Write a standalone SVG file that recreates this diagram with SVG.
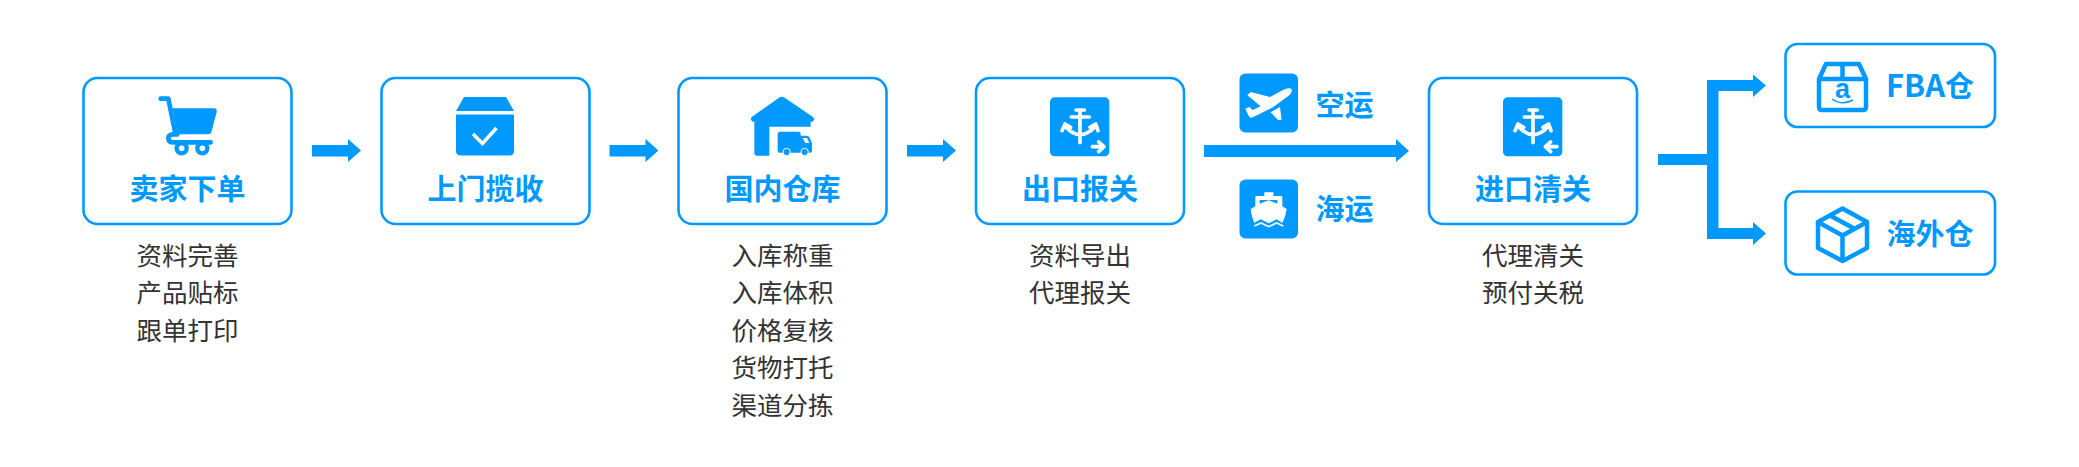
<svg xmlns="http://www.w3.org/2000/svg" width="2079" height="467" viewBox="0 0 2079 467">
<style>
text{font-family:"Noto Sans CJK SC","Noto Sans",sans-serif;text-anchor:middle}
.t{font-size:29px;font-weight:700;fill:#0099ff}
.s{font-size:25.500px;fill:#333}
.box{fill:#fff;stroke:#0099ff;stroke-width:2.600}
.b{fill:#0099ff}
.w{fill:#fff}
.wl{fill:none;stroke:#fff;stroke-width:11;stroke-linecap:round;stroke-linejoin:round}
.ol{fill:none;stroke:#0099ff;stroke-width:4.500;stroke-linejoin:round}
</style>
<defs>
<g id="anchor">
<rect class="b" x="30" y="22" width="178" height="177" rx="14"/>
<path class="wl" d="M120 60V158M108 60H133M94 81H148M77 110Q120 158 165 110"/>
<path class="wl" d="M66 122L75 102L92 112M150 112L167 102L174 122"/>
</g>
</defs>
<g id="connectors" class="b">
<path d="M312 145H348V139L361 150.500L348 162V156.500H312Z"/>
<path d="M609.500 145H645.500V139L658.500 150.500L645.500 162V156.500H609.500Z"/>
<path d="M907 145H943V139L956 150.500L943 162V156.500H907Z"/>
<path d="M1204 145H1396V139L1409 151L1396 162V157H1204Z"/>
<path d="M1658 154H1707V80H1753V74.500L1766 85.500L1753 97V91H1718.500V228H1753V222L1766 233.500L1753 245V239H1707V165H1658Z"/>
</g>
<g id="n1">
<rect class="box" x="83.500" y="78" width="208" height="146" rx="14"/>
<g transform="translate(140 85) scale(.3333)">
<path d="M62 41H85L105 140" fill="none" stroke="#0099ff" stroke-width="14" stroke-linecap="round" stroke-linejoin="round"/>
<path class="b" d="M98 70H222Q232 70 230 82L214 142Q212 148 205 148H112Z"/>
<path d="M112 148H98Q85 150 85 160Q85 172 98 172H212" fill="none" stroke="#0099ff" stroke-width="14" stroke-linecap="round"/>
<circle cx="125" cy="190" r="15" fill="none" stroke="#0099ff" stroke-width="13"/>
<circle cx="187" cy="190" r="15" fill="none" stroke="#0099ff" stroke-width="13"/>
</g>
<text class="t" x="187.500" y="200">卖家下单</text>
<text class="s" x="187.500" y="264.500">资料完善</text>
<text class="s" x="187.500" y="302">产品贴标</text>
<text class="s" x="187.500" y="339.500">跟单打印</text>
</g>
<g id="n2">
<rect class="box" x="381.500" y="78" width="208" height="146" rx="14"/>
<path class="b" d="M464 97H506L514 111H456ZM456 114.500H514V151Q514 155.500 509 155.500H461Q456 155.500 456 151Z"/>
<path d="M473 134L482.500 143.500L496.500 128" fill="none" stroke="#fff" stroke-width="3.500"/>
<text class="t" x="485.500" y="200">上门揽收</text>
</g>
<g id="n3">
<rect class="box" x="678.500" y="78" width="208" height="146" rx="14"/>
<g transform="translate(740 85) scale(.3333)">
<path class="b" d="M117 38Q125 32 134 38L218 95Q226 102 218 110H212V125H88V212H50Q43 212 43 205V110H38Q28 102 36 95Z"/>
<path class="b" d="M113 146Q113 140 120 140H176Q182 140 182 146V152H200Q206 152 209 158L216 175V198Q216 203 210 203H120Q113 203 113 198Z"/>
<path class="w" d="M188 159H201L208 174H196Z"/>
<circle class="b" cx="140" cy="201" r="11" stroke="#fff" stroke-width="3"/>
<circle class="b" cx="194" cy="201" r="11" stroke="#fff" stroke-width="3"/>
</g>
<text class="t" x="782.500" y="200">国内仓库</text>
<text class="s" x="782.500" y="264.500">入库称重</text>
<text class="s" x="782.500" y="302">入库体积</text>
<text class="s" x="782.500" y="339.500">价格复核</text>
<text class="s" x="782.500" y="376.500">货物打托</text>
<text class="s" x="782.500" y="414.500">渠道分拣</text>
</g>
<g id="n4">
<rect class="box" x="976" y="78" width="208" height="146" rx="14"/>
<g transform="translate(1040 90) scale(.3333)">
<use href="#anchor"/>
<path class="wl" d="M157 170H192M176 156L192 170L176 185"/>
</g>
<text class="t" x="1080" y="200">出口报关</text>
<text class="s" x="1080" y="264.500">资料导出</text>
<text class="s" x="1080" y="302">代理报关</text>
</g>
<g id="air">
<rect class="b" x="1239.500" y="73.500" width="58.500" height="59" rx="6"/>
<g transform="translate(1220 60) scale(.3333)">
<path class="w" d="M213 86C219 91 214 101 205 108L160 141L108 167L92 174L86 167L76 146L88 141L98 150L122 139L82 106L92 96L150 111L185 92C197 85 208 83 213 86Z"/>
<path class="w" d="M152 157L180 141L185 180L174 180Z"/>
</g>
<text class="t" x="1344.500" y="116">空运</text>
</g>
<g id="sea">
<rect class="b" x="1239.500" y="179.500" width="58.500" height="59" rx="6"/>
<g transform="translate(1220 60) scale(.3333)">
<path class="w" d="M133 397H160V408H183Q187 408 187 412V439L200 447Q196 472 187 488L170 478L146 490L122 478L103 488Q95 472 92 447L106 439V412Q106 408 110 408H133Z"/>
<path class="b" d="M119 420H172V431L146 421L119 431Z"/>
<path d="M103 498L123 489L146 500L170 489L190 498" fill="none" stroke="#fff" stroke-width="5"/>
</g>
<text class="t" x="1344.500" y="220">海运</text>
</g>
<g id="n5">
<rect class="box" x="1429" y="78" width="208" height="146" rx="14"/>
<g transform="translate(1493 90) scale(.3333)">
<use href="#anchor"/>
<path class="wl" d="M157 170H192M173 156L157 170L173 185"/>
</g>
<text class="t" x="1533" y="200">进口清关</text>
<text class="s" x="1533" y="264.500">代理清关</text>
<text class="s" x="1533" y="302">预付关税</text>
</g>
<g id="fba">
<rect class="box" x="1785.500" y="44" width="209.500" height="83" rx="12"/>
<path class="ol" d="M1819 79V107Q1819 110 1822 110H1863Q1866 110 1866 107V79M1819 79L1826 64H1859L1866 79ZM1842.500 64V79"/>
<text x="1842.500" y="98" font-size="27" font-weight="700" fill="#0099ff" style="font-family:'Liberation Sans',sans-serif">a</text>
<path d="M1832 99Q1842 106 1853 100" fill="none" stroke="#0099ff" stroke-width="1.500"/>
<text class="t" x="1930" y="97"><tspan font-size="31">FBA</tspan>仓</text>
</g>
<g id="ow">
<rect class="box" x="1785.500" y="191.500" width="209.500" height="83" rx="12"/>
<path class="ol" d="M1842.500 208.500L1867 222V248L1842.500 261L1818 248V222ZM1818 222L1842.500 235.500L1867 222M1842.500 235.500V261M1830 215.500L1855 229"/>
<text class="t" x="1930" y="245">海外仓</text>
</g>
</svg>
